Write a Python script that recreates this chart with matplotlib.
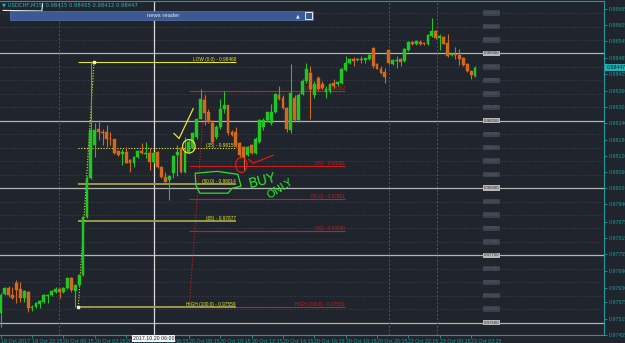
import matplotlib
matplotlib.use("Agg")
import matplotlib.pyplot as plt
import matplotlib.transforms as mtransforms
from matplotlib.patches import Rectangle, Ellipse, Polygon
import numpy as np

# USDCHF M15 candles (open, high, low, close)
opens = [0.97537, 0.97607, 0.97629, 0.97604, 0.97648, 0.97626, 0.97592, 0.97615, 0.97555, 0.97559,
         0.97570, 0.97578, 0.97600, 0.97604, 0.97615, 0.97626, 0.97615, 0.97629, 0.97666, 0.97618,
         0.97641, 0.97678, 0.97892, 0.98036, 0.98159, 0.98218, 0.98207, 0.98207, 0.98184, 0.98181,
         0.98136, 0.98125, 0.98133, 0.98103, 0.98092, 0.98114, 0.98136, 0.98125, 0.98129, 0.98096,
         0.98133, 0.98077, 0.98040, 0.98029, 0.98055, 0.98122, 0.98147, 0.98059, 0.98133, 0.98147,
         0.98188, 0.98258, 0.98329, 0.98281, 0.98240, 0.98188, 0.98225, 0.98292, 0.98307, 0.98207,
         0.98207, 0.98166, 0.98151, 0.98122, 0.98159, 0.98129, 0.98170, 0.98225, 0.98251, 0.98240,
         0.98281, 0.98344, 0.98336, 0.98299, 0.98214, 0.98336, 0.98251, 0.98351, 0.98399, 0.98429,
         0.98344, 0.98410, 0.98388, 0.98358, 0.98362, 0.98392, 0.98388, 0.98392, 0.98440, 0.98466,
         0.98480, 0.98475, 0.98480, 0.98477, 0.98480, 0.98521, 0.98462, 0.98443, 0.98432, 0.98514,
         0.98462, 0.98473, 0.98480, 0.98473, 0.98514, 0.98543, 0.98536, 0.98543, 0.98540, 0.98536,
         0.98566, 0.98584, 0.98558, 0.98562, 0.98540, 0.98495, 0.98499, 0.98495, 0.98484, 0.98462,
         0.98436, 0.98415]
highs = [0.97611, 0.97633, 0.97637, 0.97633, 0.97659, 0.97652, 0.97622, 0.97618, 0.97567, 0.97578,
         0.97585, 0.97607, 0.97607, 0.97622, 0.97633, 0.97629, 0.97633, 0.97670, 0.97670, 0.97644,
         0.97681, 0.97896, 0.98044, 0.98468, 0.98240, 0.98251, 0.98221, 0.98233, 0.98207, 0.98184,
         0.98140, 0.98144, 0.98151, 0.98107, 0.98118, 0.98140, 0.98166, 0.98170, 0.98147, 0.98133,
         0.98136, 0.98081, 0.98059, 0.98048, 0.98122, 0.98159, 0.98151, 0.98188, 0.98177, 0.98210,
         0.98262, 0.98369, 0.98344, 0.98295, 0.98251, 0.98233, 0.98332, 0.98362, 0.98310, 0.98214,
         0.98225, 0.98170, 0.98155, 0.98155, 0.98162, 0.98188, 0.98255, 0.98262, 0.98284, 0.98314,
         0.98355, 0.98381, 0.98344, 0.98303, 0.98462, 0.98344, 0.98355, 0.98406, 0.98466, 0.98455,
         0.98399, 0.98418, 0.98399, 0.98381, 0.98392, 0.98406, 0.98399, 0.98447, 0.98492, 0.98484,
         0.98488, 0.98484, 0.98492, 0.98484, 0.98499, 0.98525, 0.98466, 0.98455, 0.98447, 0.98517,
         0.98480, 0.98492, 0.98484, 0.98521, 0.98547, 0.98547, 0.98551, 0.98551, 0.98543, 0.98573,
         0.98632, 0.98588, 0.98573, 0.98566, 0.98573, 0.98503, 0.98525, 0.98517, 0.98488, 0.98466,
         0.98440, 0.98455]
lows = [0.97485, 0.97604, 0.97596, 0.97589, 0.97574, 0.97578, 0.97578, 0.97541, 0.97544, 0.97555,
        0.97555, 0.97574, 0.97574, 0.97600, 0.97611, 0.97592, 0.97611, 0.97626, 0.97615, 0.97559,
        0.97637, 0.97674, 0.97888, 0.98033, 0.98114, 0.98177, 0.98159, 0.98151, 0.98159, 0.98125,
        0.98118, 0.98085, 0.98092, 0.98059, 0.98077, 0.98110, 0.98125, 0.98110, 0.98066, 0.98092,
        0.98073, 0.98036, 0.98022, 0.97955, 0.98036, 0.98044, 0.98055, 0.98055, 0.98129, 0.98144,
        0.98184, 0.98255, 0.98233, 0.98240, 0.98166, 0.98184, 0.98221, 0.98277, 0.98196, 0.98192,
        0.98151, 0.98110, 0.98066, 0.98118, 0.98125, 0.98125, 0.98166, 0.98214, 0.98247, 0.98233,
        0.98277, 0.98329, 0.98295, 0.98207, 0.98203, 0.98244, 0.98247, 0.98344, 0.98392, 0.98258,
        0.98336, 0.98362, 0.98369, 0.98336, 0.98355, 0.98373, 0.98381, 0.98388, 0.98436, 0.98462,
        0.98455, 0.98473, 0.98466, 0.98466, 0.98477, 0.98447, 0.98443, 0.98425, 0.98392, 0.98462,
        0.98458, 0.98447, 0.98455, 0.98469, 0.98510, 0.98532, 0.98532, 0.98532, 0.98532, 0.98532,
        0.98562, 0.98554, 0.98514, 0.98536, 0.98488, 0.98491, 0.98480, 0.98458, 0.98455, 0.98432,
        0.98406, 0.98412]
closes = [0.97604, 0.97629, 0.97604, 0.97592, 0.97622, 0.97592, 0.97618, 0.97555, 0.97559, 0.97574,
          0.97581, 0.97604, 0.97604, 0.97618, 0.97626, 0.97615, 0.97629, 0.97666, 0.97622, 0.97641,
          0.97678, 0.97892, 0.98036, 0.98214, 0.98214, 0.98207, 0.98203, 0.98184, 0.98181, 0.98129,
          0.98122, 0.98133, 0.98092, 0.98092, 0.98114, 0.98136, 0.98129, 0.98129, 0.98096, 0.98129,
          0.98077, 0.98040, 0.98022, 0.98044, 0.98118, 0.98133, 0.98059, 0.98133, 0.98170, 0.98203,
          0.98258, 0.98332, 0.98277, 0.98244, 0.98170, 0.98225, 0.98292, 0.98307, 0.98203, 0.98196,
          0.98159, 0.98122, 0.98110, 0.98151, 0.98129, 0.98184, 0.98251, 0.98251, 0.98281, 0.98281,
          0.98351, 0.98332, 0.98299, 0.98221, 0.98355, 0.98251, 0.98344, 0.98399, 0.98443, 0.98369,
          0.98388, 0.98369, 0.98373, 0.98369, 0.98388, 0.98381, 0.98395, 0.98443, 0.98466, 0.98480,
          0.98473, 0.98478, 0.98477, 0.98482, 0.98495, 0.98455, 0.98443, 0.98429, 0.98414, 0.98466,
          0.98477, 0.98477, 0.98469, 0.98517, 0.98543, 0.98536, 0.98547, 0.98536, 0.98534, 0.98569,
          0.98584, 0.98558, 0.98566, 0.98536, 0.98491, 0.98499, 0.98495, 0.98480, 0.98458, 0.98436,
          0.98421, 0.98447]

# price scale and time scale labels
price_ticks = [0.98665, 0.98605, 0.98545, 0.98485, 0.98425, 0.98360, 0.98300, 0.98240, 0.98180,
               0.98120, 0.98060, 0.98000, 0.97940, 0.97875, 0.97815, 0.97755, 0.97690, 0.97630,
               0.97575, 0.97515, 0.97455]
time_tick_bars = [0, 8, 16, 24, 32, 40, 48, 56, 64, 72, 80, 88, 96, 104, 112, 120]
time_tick_labels = ["19 Oct 2017", "19 Oct 22:15", "20 Oct 00:15", "20 Oct 02:15", "20 Oct 04:15",
                    "20 Oct 06:15", "20 Oct 08:15", "20 Oct 10:15", "20 Oct 12:15", "20 Oct 14:15",
                    "20 Oct 16:15", "20 Oct 18:15", "20 Oct 20:15", "22 Oct 22:15", "23 Oct 00:15",
                    "23 Oct 02:15"]
round_levels = [0.97500, 0.97750, 0.98000, 0.98250, 0.98500]
grid_step = 0.0005
day_separators = [14.95, 99.1, 111.2]
crosshair_bar = 39
crosshair_label = "2017.10.20 06:00"
last_price = 0.98447

# fibonacci objects: anchors (bar, price) and levels
yellow_fib_bars = [19.8, 23.8]
yellow_fib_prices = [0.97559, 0.98468]
yellow_fib_end = 60.0
yellow_levels = [0.98468, 0.98150, 0.98014, 0.97877, 0.97559]
yellow_labels = ["LOW (0.0) - 0.98468", "(35) - 0.98150", "(50.0) - 0.98014", "(65) - 0.97877",
                 "HIGH (100.0) - 0.97559"]
red_fib_bars = [48.1, 52.1]
red_fib_prices = [0.97559, 0.98362]
red_fib_end = 87.8
red_levels = [0.98362, 0.98081, 0.97961, 0.97840, 0.97559]
red_labels = ["LOW (0.0) - 0.98362", "(35) - 0.98081", "(50.0) - 0.97961", "(65) - 0.97840",
              "HIGH (100.0) - 0.97559"]

# hand drawn marks (bar, price)
yellow_check_bars = [44.2, 45.5, 49.1]
yellow_check_prices = [0.98203, 0.98184, 0.98295]
red_check_bars = [63.3, 64.4, 69.5]
red_check_prices = [0.98107, 0.98092, 0.98122]
green_box_bars = [49.6, 55.2, 60.5, 61.3, 59.0, 58.0, 50.8, 49.8]
green_box_prices = [0.98055, 0.98062, 0.98051, 0.98007, 0.97999, 0.97981, 0.97981, 0.98010]

BG = "#20242c"
TEAL = "#1f9a9a"
UP = "#22c622"
DOWN = "#d2691e"
YEL = "#e6e628"
OLIVE = "#9a9a48"
RED = "#cc1c1c"

plt.rcParams["font.family"] = ["Liberation Sans Narrow", "Liberation Sans", "DejaVu Sans"]

fig = plt.figure(figsize=(6.25, 3.43), dpi=100, facecolor=BG)
ax = fig.add_axes([0, 8 / 343, 604 / 625, 334 / 343])
ax.set_facecolor(BG)
ax.set_xlim(-0.18, 153.9)
ax.set_ylim(0.97454, 0.98695)

o = np.array(opens)
h = np.array(highs)
l = np.array(lows)
c = np.array(closes)
idx = np.arange(len(o))
colors = np.where(c >= o, UP, DOWN)

# grid
level = 0.9750
while level < 0.9869:
    if any(abs(level - r) < 1e-7 for r in round_levels):
        ax.axhline(level, color="#b4b4b4", lw=0.9, zorder=1)
        box_fc, txt_c = "#b8b8b8", "#303030"
    else:
        ax.axhline(level, color="#3e4552", lw=0.7, ls=(0, (1, 2)), zorder=1)
        box_fc, txt_c = "#3a404a", "#5a606a"
    ax.text(125.3, level, f"{level:.5f}", ha="center", va="center", fontsize=3.2, color=txt_c,
            bbox=dict(boxstyle="square,pad=0.15", fc=box_fc, ec="none"), zorder=2)
    level += grid_step

for xs in day_separators:
    ax.axvline(xs, color="#1c6f6f", lw=0.7, ls=(0, (2, 2)), zorder=1)
ax.axvline(crosshair_bar, color="#d8d8d8", lw=0.9, zorder=1)

# fib levels
ax.hlines(red_levels, red_fib_bars[0], red_fib_end, colors=RED, lw=0.8, zorder=2)
for p, t in zip(red_levels, red_labels):
    ax.text(red_fib_end, p, t, ha="right", va="bottom", fontsize=3.4, color=RED, zorder=2)
ax.plot(red_fib_bars, red_fib_prices, color=RED, lw=0.8, ls=(0, (1, 1.5)), zorder=2)

ystyles = ["-", (0, (1, 1.5)), "-", "-", "-"]
ycols = [YEL, YEL, OLIVE, OLIVE, OLIVE]
ywidth = [0.8, 0.8, 1.4, 1.4, 1.4]
for p, t, st, col, w in zip(yellow_levels, yellow_labels, ystyles, ycols, ywidth):
    ax.hlines(p, yellow_fib_bars[0], yellow_fib_end, colors=col, lw=w, linestyles=st, zorder=2)
    ax.text(yellow_fib_end, p, t, ha="right", va="bottom", fontsize=3.4, color=YEL, zorder=2)
ax.plot(yellow_fib_bars, yellow_fib_prices, color=YEL, lw=0.8, ls=(0, (1, 1.5)), zorder=3)
ax.scatter(yellow_fib_bars, yellow_fib_prices, marker="s", s=2, color="#f0f0c0", zorder=3)

# candles
ax.vlines(idx, l, h, colors=colors, lw=0.8, zorder=4)
body = np.maximum(np.abs(c - o), 0.00003)
ax.bar(idx, body, bottom=np.minimum(o, c), width=0.72, color=colors, edgecolor=colors, lw=0.3, zorder=5)

# hand drawn annotations
ax.plot(yellow_check_bars, yellow_check_prices, color=YEL, lw=0.9, zorder=6)
ax.add_patch(Ellipse((48.0, 0.98155), 3.2, 0.00050, fill=False, ec=YEL, lw=0.9, zorder=6))
ax.add_patch(Ellipse((61.4, 0.98086), 2.9, 0.00056, fill=False, ec="#e01818", lw=0.9, zorder=6))
ax.plot(red_check_bars, red_check_prices, color="#e01818", lw=0.9, zorder=6)
ax.add_patch(Polygon(list(zip(green_box_bars, green_box_prices)), closed=True, fill=False,
                     ec="#2ee02e", lw=0.9, zorder=6))
ax.text(66.7, 0.98029, "BUY", rotation=14, color="#2ee02e", fontsize=10, family="DejaVu Sans",
        ha="center", va="center", zorder=6)
ax.text(71.3, 0.97996, "ONLY", rotation=32, color="#2ee02e", fontsize=8, family="DejaVu Sans",
        ha="center", va="center", zorder=6)

# header
ax.text(0.003, 0.997, "\u25bc USDCHF,M15  0.98415 0.98455 0.98412 0.98447", transform=ax.transAxes,
        ha="left", va="top", fontsize=3.8, color="#2ab4b4", family=["Liberation Sans Narrow", "DejaVu Sans"])
ax.plot([0.6, 10.5, 10.7], [0.98660, 0.98658, 0.98685], color="#e8e8e8", lw=0.8, zorder=6)
ax.add_patch(Rectangle((10 / 604, 1 - 19.5 / 335), 303 / 604, 9.5 / 335, transform=ax.transAxes,
                       fc="#3b5a94", ec="#5a78b0", lw=0.5, zorder=7))
ax.text(163 / 604, 1 - 14.8 / 335, "news reader", transform=ax.transAxes, ha="center", va="center",
        fontsize=4.2, color="#e8e8f0", zorder=8)
ax.text(297.5 / 604, 1 - 14.8 / 335, "\u25b2", transform=ax.transAxes, ha="center", va="center",
        fontsize=3.5, color="#e8e8f0", family="DejaVu Sans", zorder=8)
ax.add_patch(Rectangle((305 / 604, 1 - 18.5 / 335), 7 / 604, 7 / 335, transform=ax.transAxes,
                       fc="#3b5a94", ec="#e8e8f0", lw=0.7, zorder=8))

# axes
ax.yaxis.tick_right()
ax.set_yticks(price_ticks)
ax.set_yticklabels([f"{p:.5f}" for p in price_ticks])
ax.set_xticks(time_tick_bars)
ax.set_xticklabels(time_tick_labels)
for lbl in ax.get_xticklabels():
    lbl.set_ha("left")
ax.tick_params(axis="y", colors=TEAL, labelsize=3.8, length=2, width=0.6, pad=1.5)
ax.tick_params(axis="x", colors=TEAL, labelsize=3.8, length=2, width=0.6, pad=1)
for s in ["top", "right", "bottom"]:
    ax.spines[s].set_color(TEAL)
    ax.spines[s].set_linewidth(0.8)
ax.spines["left"].set_visible(False)

mix = mtransforms.blended_transform_factory(ax.transAxes, ax.transData)
ax.text(1.004, last_price, f"{last_price:.5f}", transform=mix, ha="left", va="center", fontsize=3.8,
        color="#10202a", clip_on=False, bbox=dict(boxstyle="square,pad=0.2", fc="#22b2b2", ec="none"))
mix2 = mtransforms.blended_transform_factory(ax.transData, ax.transAxes)
ax.text(crosshair_bar, -0.004, crosshair_label, transform=mix2, ha="center", va="top", fontsize=3.8,
        color="#202020", clip_on=False, zorder=9, bbox=dict(boxstyle="square,pad=0.2", fc="#f4f4f4", ec="none"))

fig.savefig("out.png", dpi=100, facecolor=BG)
